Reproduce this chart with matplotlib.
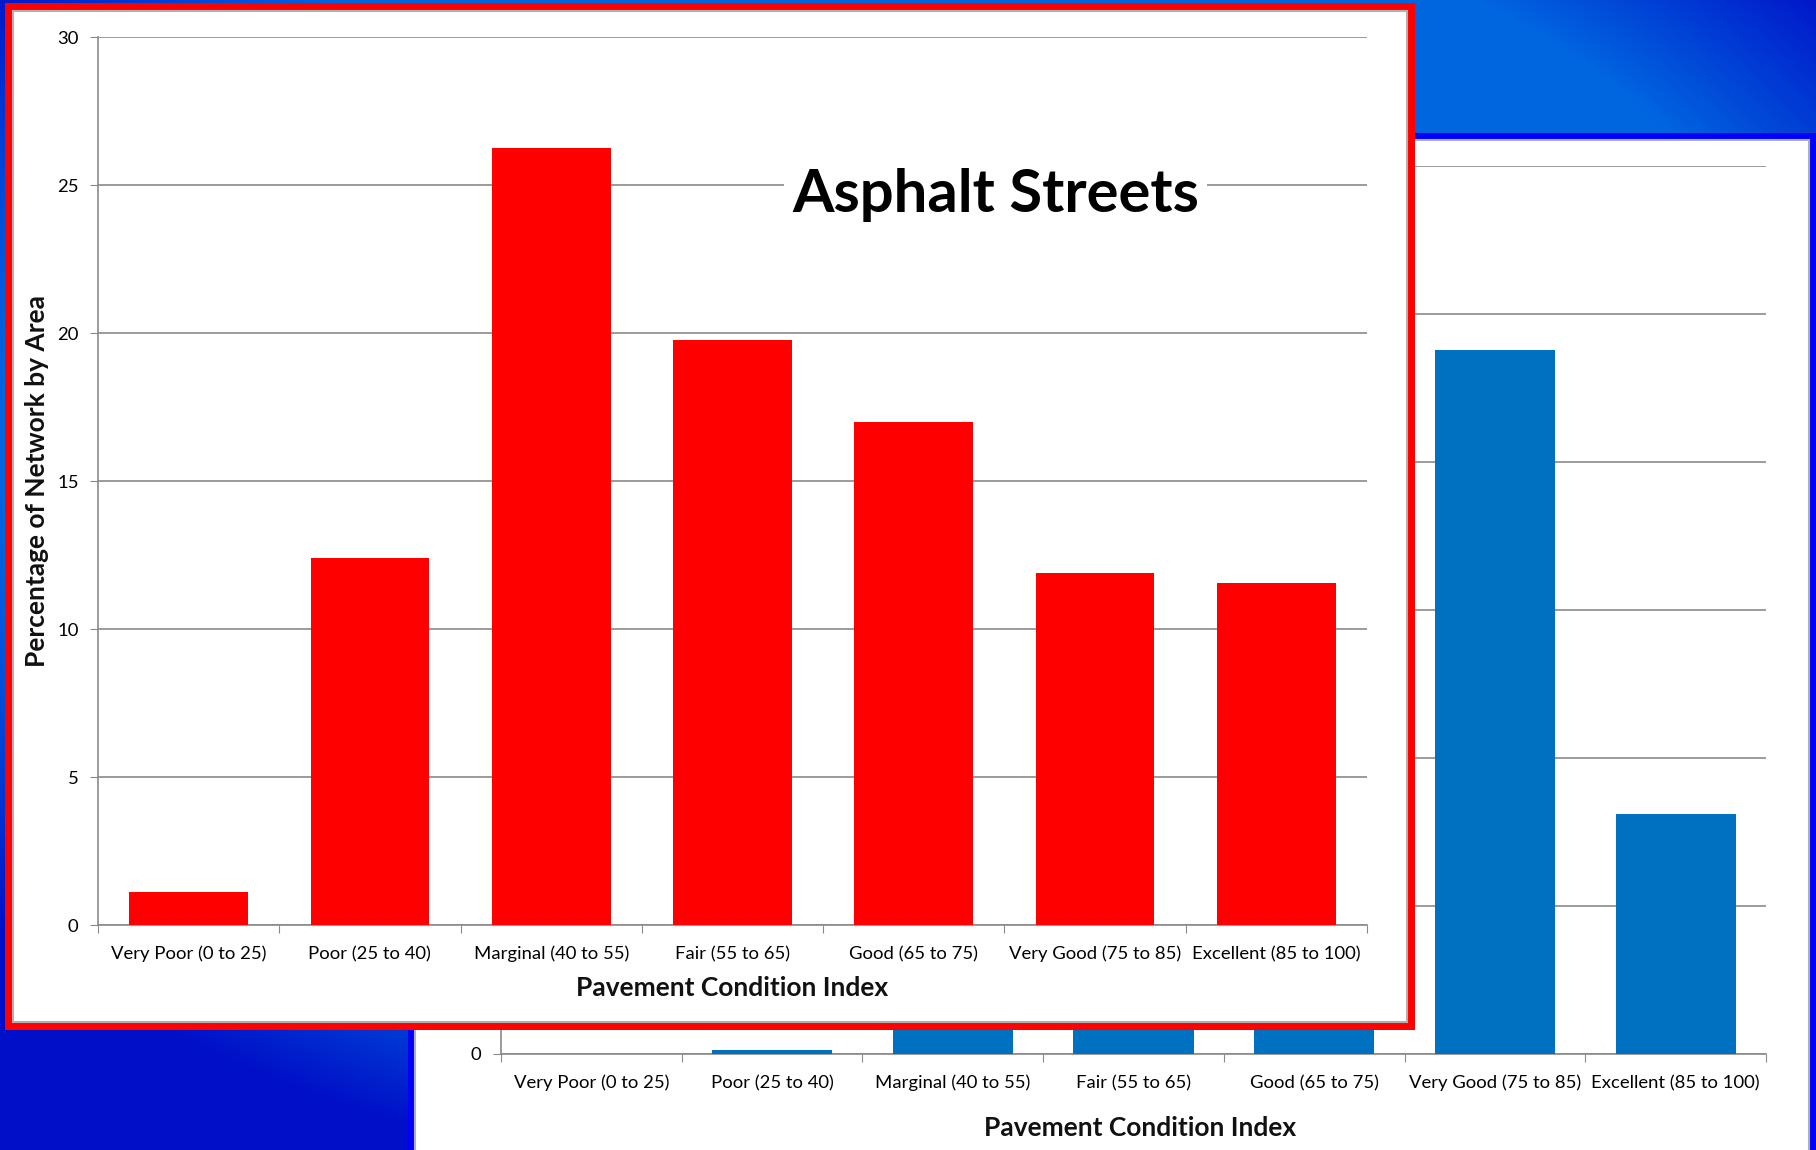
import numpy as np
import matplotlib
matplotlib.use("Agg")
import matplotlib.pyplot as plt
from matplotlib.patches import Rectangle

plt.rcParams['font.family'] = ['Lato', 'DejaVu Sans']

# ---------------- data ----------------
categories = ["Very Poor (0 to 25)", "Poor (25 to 40)", "Marginal (40 to 55)",
              "Fair (55 to 65)", "Good (65 to 75)", "Very Good (75 to 85)",
              "Excellent (85 to 100)"]
asphalt_values = [1.12, 12.39, 26.24, 19.75, 17.0, 11.88, 11.57]
# back chart (mostly hidden behind the front panel)
back_values = [0.0, 0.12, 12.0, 15.0, 14.0, 23.78, 8.1]
yticks_vals = [0, 5, 10, 15, 20, 25, 30]
front_title = "Asphalt Streets"
y_label = "Percentage of Network by Area"
x_label = "Pavement Condition Index"

W, H = 1816, 1150
fig = plt.figure(figsize=(W / 100, H / 100), dpi=100)


def fr(x0, y0, x1, y1):
    """pixel box (top-left origin) -> figure fraction rect"""
    return [x0 / W, 1 - y1 / H, (x1 - x0) / W, (y1 - y0) / H]


# ---------------- background gradient ----------------
bg = fig.add_axes([0, 0, 1, 1], zorder=0)
yy, xx = np.mgrid[0:H, 0:W]
r = np.sqrt(((xx - 908) / 908.0) ** 2 + ((yy - 450) / 575.0) ** 2)
t = np.clip((r - 1.0) / 0.3, 0, 1)[..., None]
light = np.array([0, 102, 224]) / 255.0
dark = np.array([0, 15, 200]) / 255.0
img = light * (1 - t) + dark * t
bg.imshow(img, extent=[0, W, H, 0], aspect='auto')
bg.set_xlim(0, W)
bg.set_ylim(H, 0)
bg.axis('off')

# ---------------- back panel ----------------
bp = fig.add_axes([0, 0, 1, 1], zorder=1)
bp.set_xlim(0, W)
bp.set_ylim(H, 0)
bp.axis('off')
bp.patch.set_alpha(0)
bp.add_patch(Rectangle((408, 133), W - 408 + 5, H - 133 + 5, facecolor='#0000FF', edgecolor='none'))
bp.add_patch(Rectangle((415, 140), 1809 - 415, H - 140 + 10, facecolor='white', edgecolor='#b0b0b0', lw=1.5))

x = np.arange(len(categories)) + 0.5
grid_c = '#8a8a8a'

bax = fig.add_axes(fr(501, 165.6, 1766, 1054), zorder=2)
bax.patch.set_alpha(0)
bax.bar(x, back_values, width=0.665, color='#0070C0', zorder=3)
bax.set_xlim(0, 7)
bax.set_ylim(0, 30)
bax.set_yticks(yticks_vals)
bax.set_yticklabels(["0", "", "", "", "", "", ""])
bax.yaxis.grid(True, color=grid_c, lw=1.2)
bax.set_axisbelow(True)
bax.set_xticks(range(8))
bax.set_xticklabels([])
bax.set_xticks(x, minor=True)
bax.set_xticklabels(categories, minor=True)
bax.tick_params(axis='x', which='major', length=6, color=grid_c, direction='out')
bax.tick_params(axis='x', which='minor', length=0, pad=15, labelsize=13.3)
bax.tick_params(axis='y', length=6, color=grid_c, labelsize=13.3, pad=8)
for s in ['top', 'right']:
    bax.spines[s].set_visible(False)
for s in ['left', 'bottom']:
    bax.spines[s].set_color(grid_c)
    bax.spines[s].set_linewidth(1.2)
bax.text(0.505, -0.0833, x_label, transform=bax.transAxes, ha='center', va='center',
         fontsize=19, fontweight='bold', color='#111111')

# ---------------- front panel ----------------
fp = fig.add_axes([0, 0, 1, 1], zorder=3)
fp.set_xlim(0, W)
fp.set_ylim(H, 0)
fp.axis('off')
fp.patch.set_alpha(0)
fp.add_patch(Rectangle((5, 3), 1415 - 5, 1030 - 3, facecolor='#FF0000', edgecolor='none'))
fp.add_patch(Rectangle((13, 11), 1407 - 13, 1022 - 11, facecolor='white', edgecolor='#b0b0b0', lw=1.5))

ax = fig.add_axes(fr(98, 37, 1367, 925), zorder=4)
ax.patch.set_alpha(0)
ax.bar(x, asphalt_values, width=0.655, color='#FF0000', zorder=3)
ax.set_xlim(0, 7)
ax.set_ylim(0, 30)
ax.set_yticks(yticks_vals)
ax.set_yticklabels([str(v) for v in yticks_vals])
ax.yaxis.grid(True, color=grid_c, lw=1.2)
ax.set_axisbelow(True)
ax.set_xticks(range(8))
ax.set_xticklabels([])
ax.set_xticks(x, minor=True)
ax.set_xticklabels(categories, minor=True)
ax.tick_params(axis='x', which='major', length=6, color=grid_c, direction='out')
ax.tick_params(axis='x', which='minor', length=0, pad=15, labelsize=13.3)
ax.tick_params(axis='y', length=6, color=grid_c, labelsize=13.3, pad=8)
for s in ['top', 'right']:
    ax.spines[s].set_visible(False)
for s in ['left', 'bottom']:
    ax.spines[s].set_color(grid_c)
    ax.spines[s].set_linewidth(1.2)

ax.text(4.95, 24.1, front_title, ha='center', va='baseline', fontsize=43,
        fontweight='bold', color='black', zorder=5,
        bbox=dict(facecolor='white', edgecolor='none', pad=6))
ax.text(-0.048, 0.5, y_label, transform=ax.transAxes, rotation=90, ha='center',
        va='center', fontsize=19, fontweight='bold', color='#111111')
ax.text(0.5, -0.071, x_label, transform=ax.transAxes, ha='center', va='center',
        fontsize=19, fontweight='bold', color='#111111')

fig.savefig('out.png', dpi=100)
